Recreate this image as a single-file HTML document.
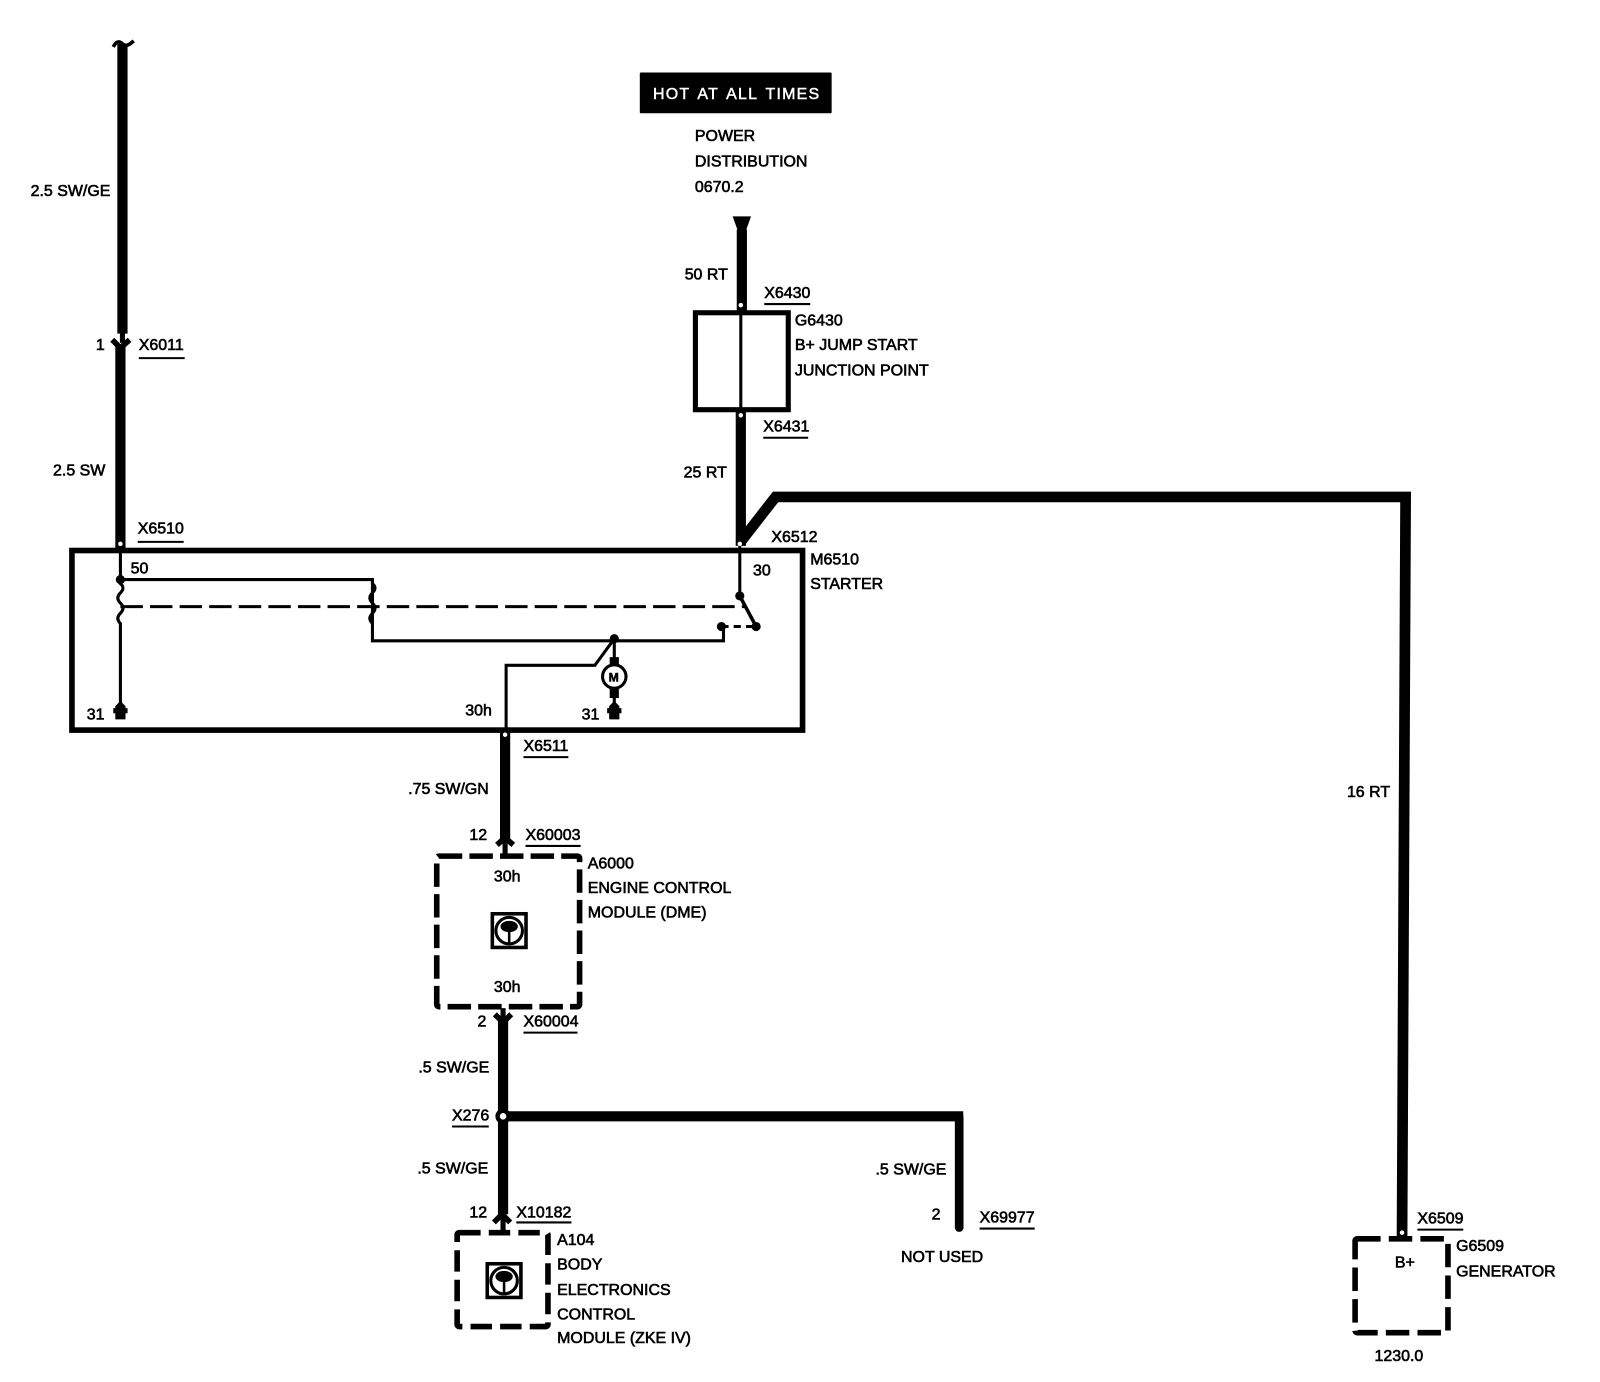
<!DOCTYPE html>
<html><head><meta charset="utf-8"><style>
html,body{margin:0;padding:0;background:#fff}
svg{display:block}
text{font-family:"Liberation Sans",sans-serif;font-size:15.65px;fill:#000;stroke:#000;stroke-width:.6px}
</style></head><body>
<svg width="1600" height="1382" viewBox="0 0 1568 1354.36" xmlns="http://www.w3.org/2000/svg">
<rect width="1568" height="1355" fill="#fff"/>
<g fill="none" stroke="#000" stroke-linecap="butt">
<!-- left wire -->
<path d="M120 43V327" stroke-width="10"/>
<path d="M111 46Q115 38 120 43Q124 47 131 40" stroke-width="3.500"/>
<path d="M118 338V537" stroke-width="10"/>
<path d="M120 325V336" stroke-width="5"/>
<path d="M110 333L118 341L127 333" stroke-width="5.500"/>
<!-- power wire -->
<path d="M727 225V306" stroke-width="10"/>
<path d="M726 402V535" stroke-width="10"/>
<path d="M725 532L760 487H1377.500L1374 1212" stroke-width="10.500" stroke-linejoin="miter"/>
<!-- G6430 -->
<rect x="681.500" y="306.500" width="91" height="95" stroke-width="5"/>
<path d="M726 300V405" stroke-width="3"/>
<!-- starter box -->
<rect x="70.500" y="539.500" width="716" height="176" stroke-width="5.500"/>
<path d="M118 535V568" stroke-width="3"/>
<path d="M118 568H365V611V628H709V614" stroke-width="3"/>
<path d="M118 568L118 572Q123 576 118 581Q113 586 118 591Q123 596 118 601Q113 606 118 611V692" stroke-width="3"/>
<path d="M365 568V572Q370 576 365 581Q360 586 365 591Q370 596 365 601Q360 606 365 611" stroke-width="3"/>
<path d="M118 594.500H730" stroke-width="3" stroke-dasharray="22 7"/>
<path d="M725 535V584" stroke-width="3"/>
<path d="M725 584L741 614" stroke-width="3.500"/>
<path d="M707 614H741" stroke-width="3" stroke-dasharray="7 5"/>
<path d="M602 626L583 652H496V716" stroke-width="3"/>
<path d="M602 626V650M602 676V695" stroke-width="3"/>
<path d="M602 644V652M602 674V684" stroke-width="9"/>
<circle cx="602" cy="663" r="11.500" stroke-width="3" fill="#fff"/>
<!-- lower wires -->
<path d="M495 716V824" stroke-width="10"/>
<path d="M495 822V840" stroke-width="5"/>
<path d="M487 828L495 821L503 828" stroke-width="5.500"/>
<path d="M493 1000V1190" stroke-width="10"/>
<path d="M485 994L493 1002L501 994" stroke-width="5.500"/>
<path d="M493 988V998" stroke-width="5"/>
<path d="M493 1187V1208" stroke-width="5"/>
<path d="M484 1198L492 1190L500 1198" stroke-width="5.500"/>
<path d="M493 1094H944" stroke-width="10"/>
<path d="M940 1094V1204" stroke-width="8.500"/>
<!-- dashed modules -->
<rect x="428" y="839" width="140" height="147.500" stroke-width="5.500" stroke-dasharray="23 7" rx="2"/>
<rect x="448" y="1208" width="89" height="92" stroke-width="5.500" stroke-dasharray="21 8" rx="2"/>
<rect x="1328" y="1214" width="91" height="92" stroke-width="5.500" stroke-dasharray="23 8" rx="2"/>
<!-- chips -->
<rect x="482.500" y="895.500" width="33" height="33" stroke-width="3.500"/>
<circle cx="499" cy="912" r="13" stroke-width="3"/>
<path d="M499 912V925" stroke-width="2.500"/>
<rect x="477.500" y="1238.500" width="33" height="33" stroke-width="3.500"/>
<circle cx="494" cy="1255" r="13" stroke-width="3"/>
<path d="M494 1255V1268" stroke-width="2.500"/>
<!-- underlines -->
<g stroke-width="2">
<path d="M136 351H181M135 531H180M749 298H794M748 429H792M513 742H557M515 829H569M513 1012H566M443 1104H479M506 1198H560M960 1204H1014M1389 1205H1434"/>
</g>
</g>
<g fill="#000">
<rect x="627" y="71" width="188" height="40" rx="1"/>
<path d="M718 212H736L731 226L729 232H725L723 226Z"/>
<circle cx="118" cy="568" r="4.500"/>
<circle cx="725" cy="584" r="4.500"/>
<circle cx="741" cy="614" r="4.500"/>
<circle cx="707" cy="614" r="4.500"/>
<circle cx="602" cy="626" r="4.500"/>
<path d="M118 687L123 692V705H113V692Z"/><rect x="111" y="694" width="14" height="5"/>
<path d="M602 687L607 692V705H597V692Z"/><rect x="595" y="694" width="14" height="5"/>
<circle cx="940" cy="1203" r="4.250"/>
<circle cx="493" cy="1094" r="7.500"/>
<ellipse cx="499" cy="908" rx="8.500" ry="5.500"/>
<ellipse cx="494" cy="1251" rx="8.500" ry="5.500"/>
</g>
<g fill="#fff">
<circle cx="118" cy="533" r="2.200"/>
<circle cx="726" cy="299" r="2.200"/>
<circle cx="726" cy="407" r="2.200"/>
<circle cx="725" cy="533" r="2.200"/>
<circle cx="495" cy="720" r="2.200"/>
<circle cx="1374" cy="1208" r="2.200"/>
<circle cx="493" cy="1094" r="3.200"/>
</g>
<text x="640" y="97" style="fill:#fff;stroke:#fff;stroke-width:.45px;letter-spacing:1.200px;word-spacing:2.500px">HOT AT ALL TIMES</text>
<text x="596.500" y="668" style="font-size:12px;font-weight:bold;stroke-width:.5px">M</text>
<text x="30" y="192">2.5 SW/GE</text>
<text x="94" y="343">1</text>
<text x="136" y="343">X6011</text>
<text x="52" y="466">2.5 SW</text>
<text x="135" y="523">X6510</text>
<text x="681" y="138">POWER</text>
<text x="681" y="163">DISTRIBUTION</text>
<text x="681" y="188">0670.2</text>
<text x="671" y="274">50 RT</text>
<text x="749" y="292">X6430</text>
<text x="779" y="319">G6430</text>
<text x="779" y="343">B+ JUMP START</text>
<text x="779" y="368">JUNCTION POINT</text>
<text x="748" y="423">X6431</text>
<text x="670" y="468">25 RT</text>
<text x="756" y="531">X6512</text>
<text x="794" y="553">M6510</text>
<text x="794" y="577">STARTER</text>
<text x="128" y="562">50</text>
<text x="738" y="564">30</text>
<text x="85" y="705">31</text>
<text x="570" y="705">31</text>
<text x="456" y="701">30h</text>
<text x="513" y="736">X6511</text>
<text x="400" y="778">.75 SW/GN</text>
<text x="460" y="823">12</text>
<text x="515" y="823">X60003</text>
<text x="576" y="851">A6000</text>
<text x="576" y="875">ENGINE CONTROL</text>
<text x="576" y="899">MODULE (DME)</text>
<text x="484" y="864">30h</text>
<text x="484" y="972">30h</text>
<text x="468" y="1006">2</text>
<text x="513" y="1006">X60004</text>
<text x="410" y="1051">.5 SW/GE</text>
<text x="443" y="1098">X276</text>
<text x="409" y="1150">.5 SW/GE</text>
<text x="858" y="1151">.5 SW/GE</text>
<text x="460" y="1193">12</text>
<text x="506" y="1193">X10182</text>
<text x="913" y="1195">2</text>
<text x="960" y="1198">X69977</text>
<text x="883" y="1237">NOT USED</text>
<text x="546" y="1220">A104</text>
<text x="546" y="1244">BODY</text>
<text x="546" y="1269">ELECTRONICS</text>
<text x="546" y="1293">CONTROL</text>
<text x="546" y="1316">MODULE (ZKE IV)</text>
<text x="1320" y="781">16 RT</text>
<text x="1389" y="1199">X6509</text>
<text x="1427" y="1226">G6509</text>
<text x="1427" y="1251">GENERATOR</text>
<text x="1367" y="1242">B+</text>
<text x="1347" y="1334">1230.0</text>
</svg>
</body></html>
